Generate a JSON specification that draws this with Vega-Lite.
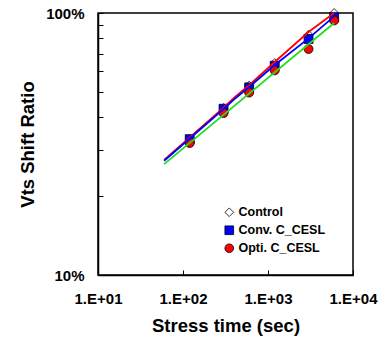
{
  "$schema": "https://vega.github.io/schema/vega-lite/v6.json",
  "width": 255,
  "height": 262,
  "autosize": "none",
  "padding": {"left": 98, "top": 13, "right": 38, "bottom": 63},
  "background": "white",
  "config": {
    "font": "Liberation Sans",
    "view": {"stroke": "black", "strokeWidth": 1.5},
    "axis": {
      "grid": false,
      "domainColor": "black",
      "domainWidth": 1.5,
      "tickColor": "black",
      "tickWidth": 1,
      "tickSize": -5,
      "labelColor": "black",
      "labelFont": "Liberation Sans",
      "labelFontSize": 15,
      "labelFontWeight": "bold",
      "labelFlush": false,
      "labelOverlap": false,
      "titleColor": "black",
      "titleFont": "Liberation Sans",
      "titleFontSize": 18.5,
      "titleFontWeight": "bold"
    }
  },
  "datasets": {
    "pts": [
      {"time": 120, "ratio": 0.330, "sample": "Control"},
      {"time": 300, "ratio": 0.434, "sample": "Control"},
      {"time": 600, "ratio": 0.528, "sample": "Control"},
      {"time": 1200, "ratio": 0.644, "sample": "Control"},
      {"time": 3000, "ratio": 0.826, "sample": "Control"},
      {"time": 6000, "ratio": 1.0, "sample": "Control"},
      {"time": 120, "ratio": 0.330, "sample": "Conv. C_CESL"},
      {"time": 300, "ratio": 0.431, "sample": "Conv. C_CESL"},
      {"time": 600, "ratio": 0.520, "sample": "Conv. C_CESL"},
      {"time": 1200, "ratio": 0.629, "sample": "Conv. C_CESL"},
      {"time": 3000, "ratio": 0.796, "sample": "Conv. C_CESL"},
      {"time": 6000, "ratio": 0.965, "sample": "Conv. C_CESL"},
      {"time": 120, "ratio": 0.319, "sample": "Opti. C_CESL"},
      {"time": 300, "ratio": 0.415, "sample": "Opti. C_CESL"},
      {"time": 600, "ratio": 0.497, "sample": "Opti. C_CESL"},
      {"time": 1200, "ratio": 0.604, "sample": "Opti. C_CESL"},
      {"time": 3000, "ratio": 0.729, "sample": "Opti. C_CESL"},
      {"time": 6000, "ratio": 0.937, "sample": "Opti. C_CESL"}
    ],
    "fits": [
      {"time": 60, "ratio": 0.275, "fit": "Control fit"},
      {"time": 120, "ratio": 0.335, "fit": "Control fit"},
      {"time": 300, "ratio": 0.435, "fit": "Control fit"},
      {"time": 400, "ratio": 0.475, "fit": "Control fit"},
      {"time": 600, "ratio": 0.530, "fit": "Control fit"},
      {"time": 1200, "ratio": 0.650, "fit": "Control fit"},
      {"time": 3000, "ratio": 0.846, "fit": "Control fit"},
      {"time": 6000, "ratio": 1.0, "fit": "Control fit"},
      {"time": 60, "ratio": 0.273, "fit": "Conv fit"},
      {"time": 120, "ratio": 0.332, "fit": "Conv fit"},
      {"time": 300, "ratio": 0.430, "fit": "Conv fit"},
      {"time": 400, "ratio": 0.468, "fit": "Conv fit"},
      {"time": 600, "ratio": 0.522, "fit": "Conv fit"},
      {"time": 1200, "ratio": 0.633, "fit": "Conv fit"},
      {"time": 3000, "ratio": 0.800, "fit": "Conv fit"},
      {"time": 6000, "ratio": 0.971, "fit": "Conv fit"},
      {"time": 60, "ratio": 0.265, "fit": "Opti fit"},
      {"time": 6000, "ratio": 0.916, "fit": "Opti fit"}
    ]
  },
  "layer": [
    {
      "data": {"name": "pts"},
      "mark": {"type": "point", "filled": true, "stroke": "black", "strokeWidth": 0.8, "size": 80, "opacity": 1},
      "encoding": {
        "x": {
          "field": "time", "type": "quantitative",
          "scale": {"type": "log", "domain": [10, 10000], "nice": false},
          "axis": {
            "values": [10, 100, 1000, 10000],
            "labelExpr": "'1.E+0' + round(log(datum.value)/LN10)",
            "labelPadding": 21,
            "title": "Stress time (sec)",
            "titleBaseline": "alphabetic",
            "titleY": 56
          }
        },
        "y": {
          "field": "ratio", "type": "quantitative",
          "scale": {"type": "log", "domain": [0.1, 1], "nice": false},
          "axis": {
            "values": [0.1, 0.2, 0.3, 0.4, 0.5, 0.6, 0.7, 0.8, 0.9, 1],
            "labelExpr": "datum.value < 0.15 || datum.value > 0.95 ? format(datum.value, '.0%') : ''",
            "labelPadding": 19,
            "title": "Vts Shift Ratio",
            "titleBaseline": "alphabetic",
            "titleX": -65
          }
        },
        "fill": {
          "field": "sample", "type": "nominal",
          "scale": {"domain": ["Control", "Conv. C_CESL", "Opti. C_CESL"], "range": ["white", "#0000ff", "#ff0000"]},
          "legend": {
            "title": null,
            "orient": "none",
            "legendX": 125,
            "legendY": 193,
            "padding": 0,
            "rowPadding": 5,
            "labelOffset": 3,
            "labelFont": "Liberation Sans",
            "labelFontSize": 12.5,
            "labelFontWeight": "bold",
            "labelColor": "black",
            "symbolSize": 75,
            "symbolStrokeColor": "black",
            "symbolStrokeWidth": 0.8,
            "symbolOpacity": 1
          }
        },
        "shape": {
          "field": "sample", "type": "nominal",
          "scale": {"domain": ["Control", "Conv. C_CESL", "Opti. C_CESL"], "range": ["diamond", "square", "circle"]}
        }
      }
    },
    {
      "data": {"name": "fits"},
      "mark": {"type": "line", "strokeWidth": 1.8},
      "encoding": {
        "x": {"field": "time", "type": "quantitative"},
        "y": {"field": "ratio", "type": "quantitative"},
        "color": {
          "field": "fit", "type": "nominal",
          "scale": {"domain": ["Control fit", "Conv fit", "Opti fit"], "range": ["#ff0000", "#0000ff", "#22dd22"]},
          "legend": null
        }
      }
    }
  ]
}
